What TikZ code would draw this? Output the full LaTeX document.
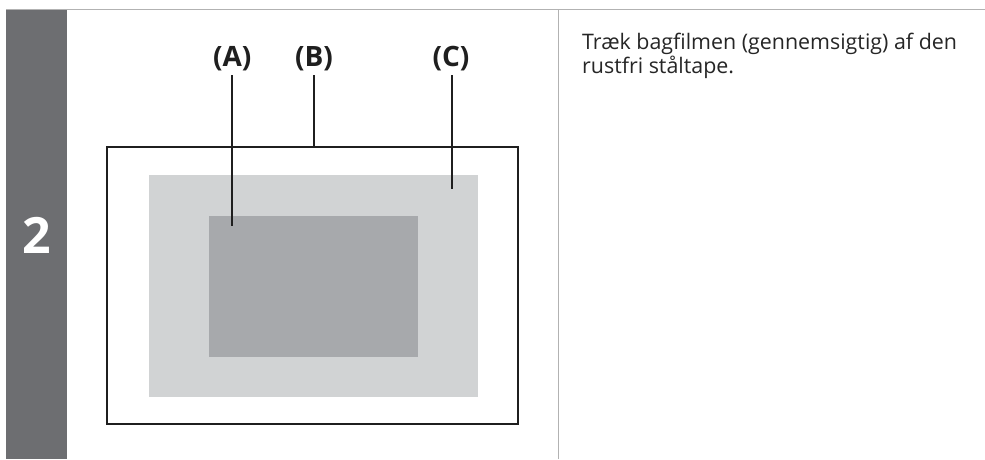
\documentclass[tikz,border=0pt]{standalone}
\usepackage{fontspec}
\setmainfont{Open Sans}
\begin{document}
\begin{tikzpicture}[x=1pt,y=-1pt,
  frame/.style={draw=black!88, line width=2.3pt},
  leader/.style={draw=black!88, line width=2pt},
  rule/.style={draw=black!30, line width=1.5pt},
  lbl/.style={font=\bfseries\fontsize{28}{30}\selectfont, inner sep=0pt, anchor=base, text=black!88},
  body/.style={font=\fontsize{21.4}{24}\selectfont, inner sep=0pt, anchor=base west, align=left, text=black!85}]
\definecolor{bar}{HTML}{6D6E71}
\definecolor{light}{HTML}{D1D3D4}
\definecolor{dark}{HTML}{A7A9AC}
\useasboundingbox (0,0) rectangle (985,459);
\fill[white] (0,0) rectangle (985,459);
% step bar
\fill[bar] (6,9.5) rectangle (67,459);
\node[font=\bfseries\fontsize{50}{52}\selectfont, text=white, inner sep=0pt, anchor=base] (num) at (36.5,253) {2};
% rules
\draw[rule] (6,9.5) -- (985,9.5);
\draw[rule] (558.5,9.5) -- (558.5,459);
% drawing
\fill[light] (149,175) rectangle (478,396.5);
\fill[dark] (209,216) rectangle (418,356.5);
\draw[frame] (107.3,147.3) rectangle (518.3,424.3);
\coordinate (frametop) at (314,147.3);
\coordinate (endA) at (232.3,226);
\coordinate (endC) at (451.5,189.3);
\node[lbl] (la) at (232.3,66.5) {(A)};
\node[lbl] (lb) at (314,66.5) {(B)};
\node[lbl] (lc) at (451,66.5) {(C)};
\draw[leader] (232.3,75) -- (endA);
\draw[leader] (314,75) -- (frametop);
\draw[leader] (451.5,75) -- (endC);
% text
\node[body] (txt) at (582,73.3) {Træk bagfilmen (gennemsigtig) af den\\rustfri ståltape.};
\end{tikzpicture}
\end{document}
